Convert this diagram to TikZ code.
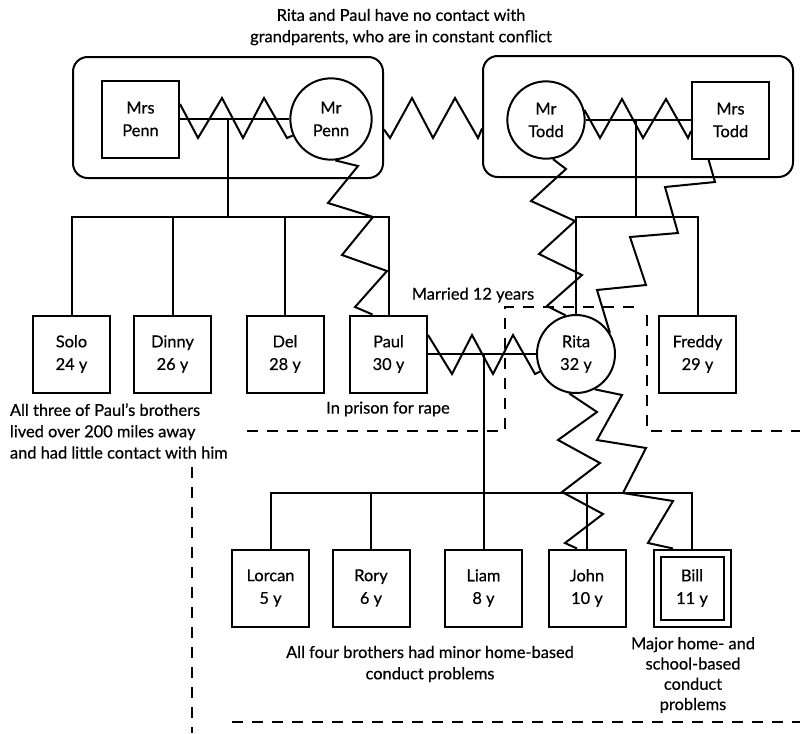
\documentclass[tikz,border=0pt]{standalone}
\usepackage{fontspec}
\setmainfont{Lato}[FakeBold=0.5]
\usetikzlibrary{backgrounds,calc}
\begin{document}
\begin{tikzpicture}[x=0.75pt,y=-0.75pt, line width=1.5pt, line join=miter,
  every node/.style={font=\fontsize{12.3}{17}\selectfont, align=center, inner sep=0pt},
  sq/.style={draw, fill=white, minimum size=57.75pt},
  circ/.style={draw, fill=white, circle, minimum size=#1},
  circ/.default=59pt,
  grp/.style={draw, rounded corners=11pt, minimum width=232.5pt, minimum height=90.75pt},
  lbl/.style={font=\fontsize{12.3}{16}\selectfont},
  dsh/.style={line width=1.3pt, dash pattern=on 8.5pt off 6.5pt}]
\useasboundingbox (0,0) rectangle (800,733);

% grandparent groups
\node[grp] (penns) at (228,117.5) {};
\node[grp] (todds) at (638,116.5) {};

% people
\node[sq] (mrspenn) at (140.5,119) {Mrs\\Penn};
\node[circ=61pt] (mrpenn) at (331,119) {Mr\\Penn};
\node[circ=58pt] (mrtodd) at (546,120) {Mr\\Todd};
\node[sq] (mrstodd) at (730.5,120) {Mrs\\Todd};

\node[sq] (solo) at (71.5,354) {Solo\\24 y};
\node[sq] (dinny) at (172.5,354) {Dinny\\26 y};
\node[sq] (del) at (285,354) {Del\\28 y};
\node[sq] (paul) at (388.5,354) {Paul\\30 y};
\node[circ=58.5pt] (rita) at (576,354) {Rita\\32 y};
\node[sq] (freddy) at (697.5,354) {Freddy\\29 y};

\node[sq] (lorcan) at (270.5,588) {Lorcan\\5 y};
\node[sq] (rory) at (371,588) {Rory\\6 y};
\node[sq] (liam) at (483.5,588) {Liam\\8 y};
\node[sq] (john) at (587,588) {John\\10 y};
\node[sq] (bill) at (692,588) {Bill\\11 y};
\draw ($(bill.north west)+(8,8)$) rectangle ($(bill.south east)+(-8,-8)$);

% coordinates for marriage midpoints and sibling bars
\coordinate (pennm) at (228,119);
\coordinate (pennbar) at (228,217);
\coordinate (toddm) at (636,120);
\coordinate (toddbar) at (636,217);
\coordinate (prm) at (483.5,354);
\coordinate (kidsbar) at (483.5,493);

\begin{scope}[on background layer={line width=1.5pt, line join=miter}]
  % marriage lines
  \draw (mrspenn.east) -- (mrpenn.west);
  \draw (mrtodd.east) -- (mrstodd.west);
  \draw (paul.east) -- (rita.west);
  % conflict zigzags between spouses
  \draw ($(mrspenn.east)+(0,-15)$) -- (198,138) -- (222,98) -- (243,138) -- (264,98) -- (287,138) -- (mrpenn);
  \draw (mrtodd.15) -- (600,138) -- (622,99) -- (643,138) -- (666,99) -- (688,138) -- ($(mrstodd.west)+(0,11)$);
  \draw ($(paul.east)+(0,-19)$) -- (452,374) -- (472,335) -- (493,374) -- (513,335) -- (535,374) -- (rita);
  % conflict between grandparent couples
  \draw ($(penns.east)+(0,12)$) -- (390,138) -- (412,98) -- (433,138) -- (455,98) -- (478,138) -- ($(todds.west)+(0,12)$);
  % conflict zigzags parent -> child
  \draw (mrpenn.-84) -- (358,166) -- (328,203) -- (373,217) -- (342,255) -- (387,271) -- (355,307) -- ($(paul.north)+(-16,0)$);
  \draw (mrtodd.-80) -- (566,169) -- (531,201) -- (575,221) -- (539,254) -- (582,275) -- (547,306) -- (rita.105);
  \draw ($(mrstodd.south)+(-22,0)$) -- (715,182) -- (665,187) -- (678,233) -- (630,237) -- (646,285) -- (597,290) -- (rita.32);
  \draw (rita.-62) -- (622,395) -- (597,440) -- (646,448) -- (623,493) -- (673,501) -- (648,543) -- ($(bill.north)+(-19,0)$);
  \draw (rita.-100) -- (597,412) -- (558,440) -- (600,463) -- (562,492) -- (603,514) -- (565,543) -- ($(john.north)+(-10,0)$);
\end{scope}

% children lines
\draw (pennm) -- (pennbar);
\draw (solo.north) -- (solo.north |- pennbar) -- (paul.north |- pennbar) -- (paul.north);
\draw (dinny.north) -- (dinny.north |- pennbar);
\draw (del.north) -- (del.north |- pennbar);

\draw (toddm) -- (toddbar);
\draw (rita.north) -- (rita.north |- toddbar) -- (freddy.north |- toddbar) -- (freddy.north);

\draw (prm) -- (liam.north);
\draw (lorcan.north) -- (lorcan.north |- kidsbar) -- (bill.north |- kidsbar) -- (bill.north);
\draw (rory.north) -- (rory.north |- kidsbar);
\draw (john.north) -- (john.north |- kidsbar);

% dashed boundaries
\draw[dsh] (247,431) -- (505,431) -- (505,307) -- (642,307);
\draw[dsh] (647,315) -- (647,431) -- (800,431);
\draw[dsh] (192,467) -- (192,733);
\draw[dsh] (232,722) -- (800,722);

% labels
\node[lbl] (title) at (401,27) {Rita and Paul have no contact with\\grandparents, who are in constant conflict};
\node[lbl] (married) at (473,295) {Married 12 years};
\node[lbl] (prison) at (388,409) {In prison for rape};
\node[lbl, align=left, anchor=west] (brothers) at (9,431) {All three of Paul's brothers\\lived over 200 miles away\\and had little contact with him};
\node[lbl] (minor) at (430,664) {All four brothers had minor home-based\\conduct problems};
\node[lbl, font=\fontsize{12.3}{15.2}\selectfont] (major) at (693,675) {Major home- and\\school-based\\conduct\\problems};
\end{tikzpicture}
\end{document}
